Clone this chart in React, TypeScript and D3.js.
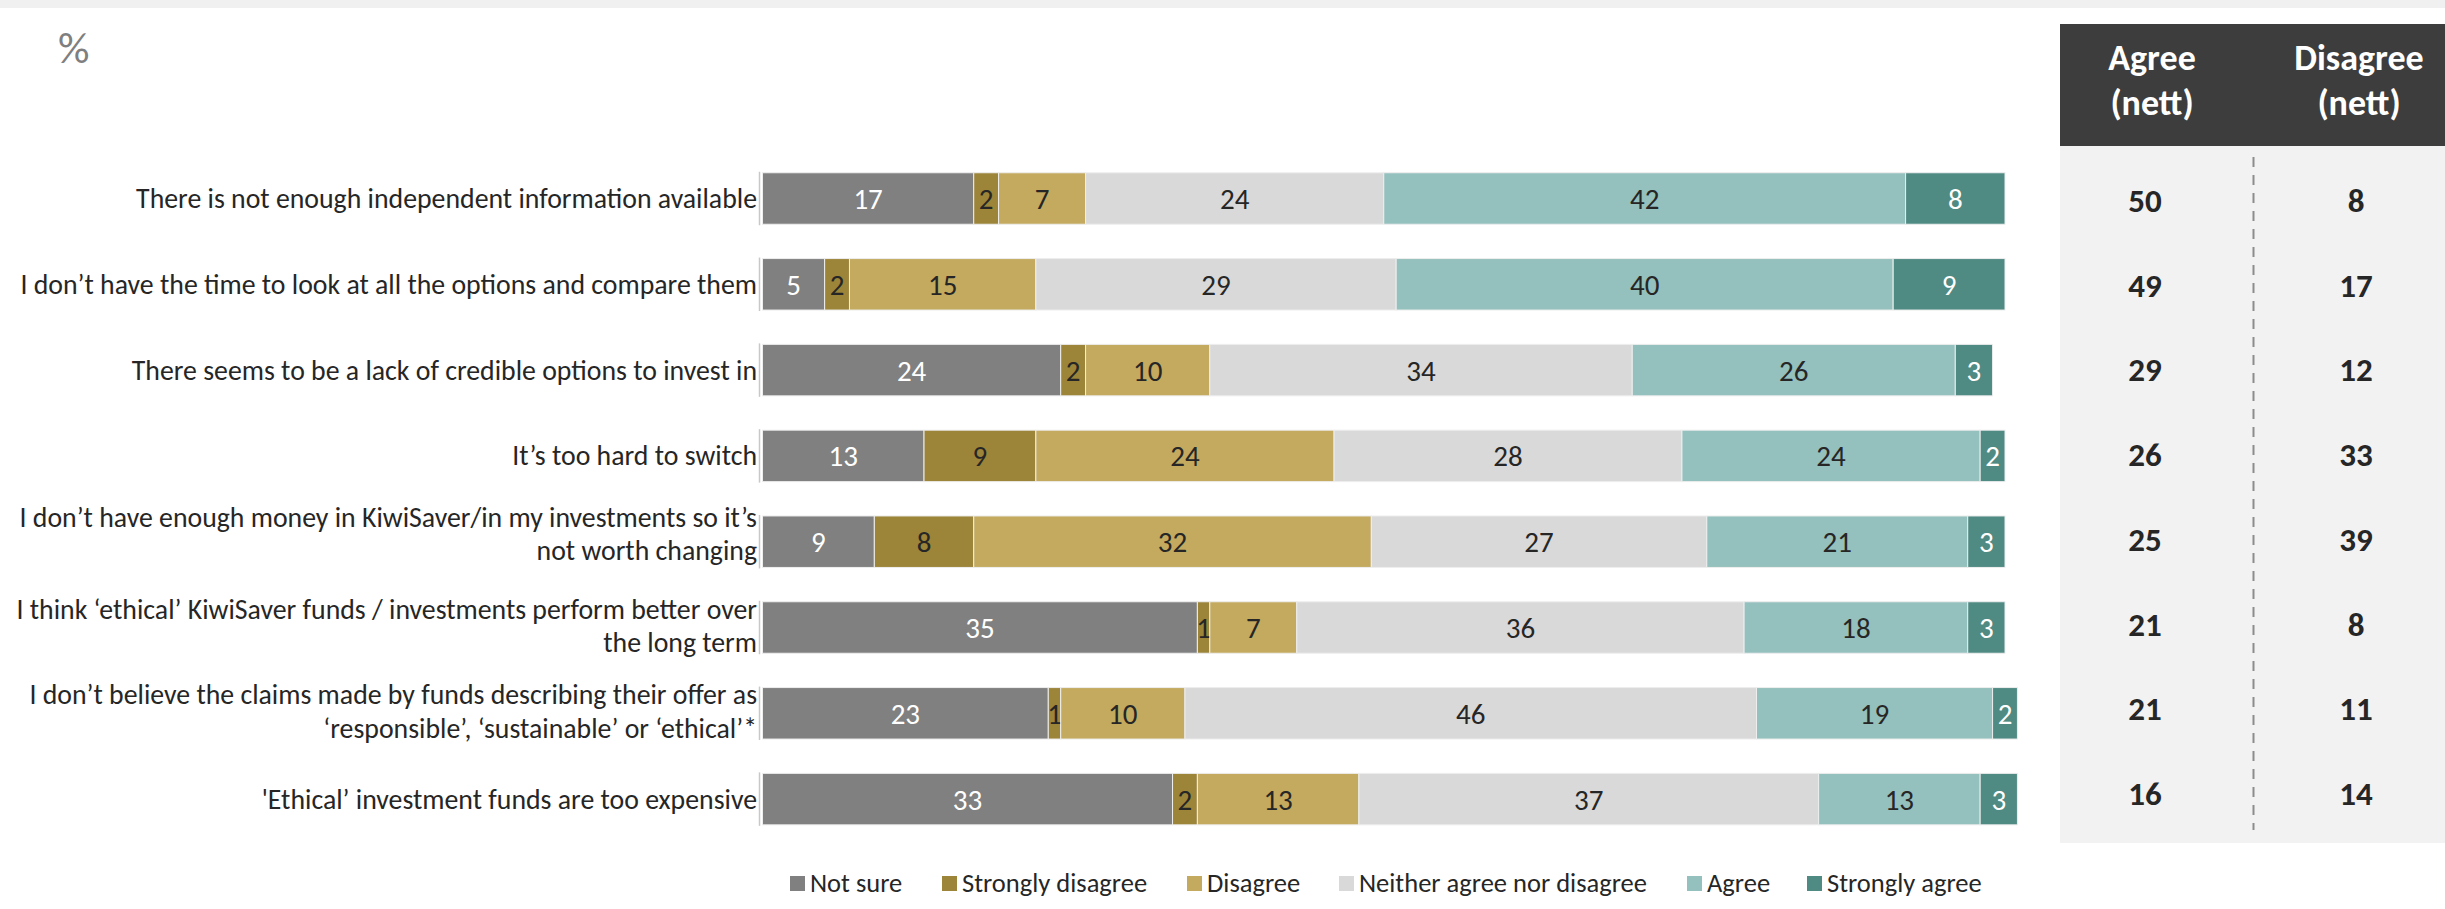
import React from "react";
import * as d3 from "d3";

const categories = [
  "There is not enough independent information available",
  "I don\u2019t have the time to look at all the options and compare them",
  "There seems to be a lack of credible options to invest in",
  "It\u2019s too hard to switch",
  "I don\u2019t have enough money in KiwiSaver/in my investments so it\u2019s\nnot worth changing",
  "I think \u2018ethical\u2019 KiwiSaver funds / investments perform better over\nthe long term",
  "I don\u2019t believe the claims made by funds describing their offer as\n\u2018responsible\u2019, \u2018sustainable\u2019 or \u2018ethical\u2019*",
  "'Ethical\u2019 investment funds are too expensive",
];

const seriesNames = ["Not sure", "Strongly disagree", "Disagree", "Neither agree nor disagree", "Agree", "Strongly agree"];
const notSure = [17, 5, 24, 13, 9, 35, 23, 33];
const stronglyDisagree = [2, 2, 2, 9, 8, 1, 1, 2];
const disagree = [7, 15, 10, 24, 32, 7, 10, 13];
const neither = [24, 29, 34, 28, 27, 36, 46, 37];
const agree = [42, 40, 26, 24, 21, 18, 19, 13];
const stronglyAgree = [8, 9, 3, 2, 3, 3, 2, 3];
const agreeNett = [50, 49, 29, 26, 25, 21, 21, 16];
const disagreeNett = [8, 17, 12, 33, 39, 8, 11, 14];
const tableHeaders = [["Agree", "(nett)"], ["Disagree", "(nett)"]];

const colors = ["#808080", "#9c8439", "#c3aa5f", "#d9d9d9", "#94c0bd", "#4f8a83"];
const labelColors = ["#ffffff", "#262626", "#262626", "#262626", "#262626", "#ffffff"];
const FONT = "Carlito, Lato, 'Open Sans', sans-serif";

export default function App() {
  const W = 2445, H = 909;
  const seriesArrays = [notSure, stronglyDisagree, disagree, neither, agree, stronglyAgree];
  const rows = categories.map((c, i) => {
    const r: any = { cat: c };
    seriesNames.forEach((s, k) => (r[s] = seriesArrays[k][i]));
    return r;
  });
  const stack = d3.stack<any>().keys(seriesNames);
  const stacked = stack(rows);

  const x = d3.scaleLinear().domain([0, 100]).range([762.5, 2005]);
  const y = d3.scaleBand<string>().domain(categories).range([155.6, 842]).paddingInner(0.4).paddingOuter(0.2);
  const bh = y.bandwidth();

  const tableY = d3.scaleLinear().domain([0, 7]).range([200, 793]);
  const colX = [2152, 2359];
  const numX = [2145, 2356];

  const legendX = [790, 942, 1187, 1339, 1687, 1807];

  return (
    <svg width={W} height={H} style={{ position: "absolute", left: 0, top: 0, background: "#fff" }} fontFamily={FONT}>
      <rect x={0} y={0} width={W} height={8} fill="#f0f0f0" />
      <text x={58} y={63} fontSize={44} fill="#7f7f7f">%</text>

      {/* category labels */}
      {categories.map((c, i) => {
        const lines = c.split("\n");
        const cy = (y(c) as number) + bh / 2;
        const shift = i === 4 ? -6 : 0;
        return (
          <text key={i} textAnchor="end" fontSize={27.8} fill="#262626">
            {lines.length === 1 ? (
              <tspan x={757} y={cy + 9.5}>{lines[0]}</tspan>
            ) : (
              lines.map((l, j) => (
                <tspan key={j} x={757} y={cy - 9 + shift + j * 33.5}>{l}</tspan>
              ))
            )}
          </text>
        );
      })}

      {/* axis ticks beside bars */}
      {categories.map((c, i) => (
        <line key={i} x1={759.5} x2={759.5} y1={(y(c) as number) - 1} y2={(y(c) as number) + bh + 1} stroke="#c8c8c8" strokeWidth={1.5} />
      ))}

      {/* bars */}
      {stacked.map((s, k) => (
        <g key={k}>
          {s.map((d, i) => {
            const x0 = x(d[0]), x1 = x(d[1]);
            const yy = y(categories[i]) as number;
            const v = d[1] - d[0];
            return (
              <g key={i}>
                <rect x={x0} y={yy} width={x1 - x0} height={bh} fill={colors[k]} stroke="#eeeeee" strokeWidth={1} />
                {v > 0 && (
                  <text x={(x0 + x1) / 2} y={yy + bh / 2 + 10.5} textAnchor="middle" fontSize={29} fill={labelColors[k]}>
                    {v}
                  </text>
                )}
              </g>
            );
          })}
        </g>
      ))}

      {/* right table */}
      <rect x={2060} y={24} width={W - 2060} height={122} fill="#3d3d3d" />
      <rect x={2060} y={146} width={W - 2060} height={697} fill="#f2f2f2" />
      <line x1={2253.5} x2={2253.5} y1={157} y2={830} stroke="#8c8c8c" strokeWidth={2} strokeDasharray="10 8" />
      {tableHeaders.map((h, j) => (
        <g key={j}>
          <text x={colX[j]} y={70} textAnchor="middle" fontSize={36} fontWeight={700} fill="#ffffff">{h[0]}</text>
          <text x={colX[j]} y={115} textAnchor="middle" fontSize={36} fontWeight={700} fill="#ffffff">{h[1]}</text>
        </g>
      ))}
      {agreeNett.map((v, i) => (
        <text key={"a" + i} x={numX[0]} y={tableY(i) + 12} textAnchor="middle" fontSize={33} fontWeight={700} fill="#262626">{v}</text>
      ))}
      {disagreeNett.map((v, i) => (
        <text key={"d" + i} x={numX[1]} y={tableY(i) + 12} textAnchor="middle" fontSize={33} fontWeight={700} fill="#262626">{v}</text>
      ))}

      {/* legend */}
      {seriesNames.map((s, k) => (
        <g key={k}>
          <rect x={legendX[k]} y={876} width={15} height={15} fill={colors[k]} />
          <text x={legendX[k] + 20} y={892} fontSize={26.5} fill="#262626">{s}</text>
        </g>
      ))}
    </svg>
  );
}
